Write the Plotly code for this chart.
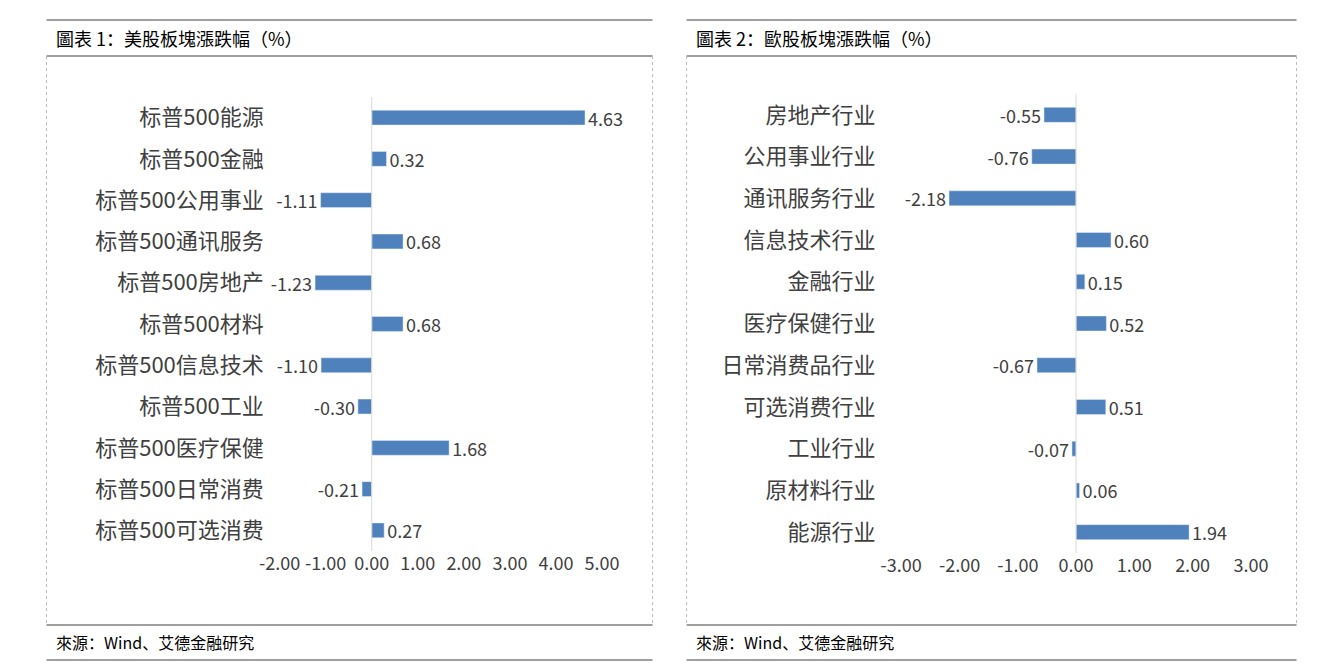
import plotly.graph_objects as go

us_cats = ["标普500能源","标普500金融","标普500公用事业","标普500通讯服务","标普500房地产","标普500材料",
           "标普500信息技术","标普500工业","标普500医疗保健","标普500日常消费","标普500可选消费"]
us_vals = [4.63,0.32,-1.11,0.68,-1.23,0.68,-1.10,-0.30,1.68,-0.21,0.27]
eu_cats = ["房地产行业","公用事业行业","通讯服务行业","信息技术行业","金融行业","医疗保健行业",
           "日常消费品行业","可选消费行业","工业行业","原材料行业","能源行业"]
eu_vals = [-0.55,-0.76,-2.18,0.60,0.15,0.52,-0.67,0.51,-0.07,0.06,1.94]
us_ticks = [-2,-1,0,1,2,3,4,5]
eu_ticks = [-3,-2,-1,0,1,2,3]

W, H = 1324, 664
F = "Noto Sans CJK SC, Noto Sans, sans-serif"
BLUE = "#4f81bd"
fmt = lambda v: f"{v:.2f}"
fig = go.Figure()
fig.add_trace(go.Bar(y=us_cats, x=us_vals, orientation="h", marker_color=BLUE, width=0.36,
                     text=[fmt(v) for v in us_vals], textposition="outside", cliponaxis=False,
                     textfont=dict(size=18, color="#404040"), xaxis="x", yaxis="y"))
fig.add_trace(go.Bar(y=eu_cats, x=eu_vals, orientation="h", marker_color=BLUE, width=0.36,
                     text=[fmt(v) for v in eu_vals], textposition="outside", cliponaxis=False,
                     textfont=dict(size=18, color="#404040"), xaxis="x2", yaxis="y2"))

def px(x): return x / W
def py(y): return 1 - y / H

ax = dict(showgrid=False, zeroline=False, showline=False, ticks="", tickangle=0,
          tickfont=dict(size=18, color="#404040"))
fig.update_layout(
    width=W, height=H, margin=dict(l=0, r=0, t=0, b=0), showlegend=False, autosize=False,
    plot_bgcolor="white", paper_bgcolor="white", font=dict(family=F),
    uniformtext=dict(minsize=18, mode="show"),
    xaxis=dict(ax, domain=[px(258), px(590)], range=[-2, 5], tickvals=us_ticks,
               ticktext=[fmt(v) for v in us_ticks], anchor="y"),
    yaxis=dict(domain=[py(543), py(89)], autorange="reversed", ticks="", showline=False,
               tickfont=dict(size=22, color="#404040"), anchor="x", ticksuffix="   "),
    xaxis2=dict(ax, domain=[px(898), px(1258)], range=[-3, 3], tickvals=eu_ticks,
                ticktext=[fmt(v) for v in eu_ticks], anchor="y2"),
    yaxis2=dict(domain=[py(545), py(86)], autorange="reversed", ticks="", showline=False,
                tickfont=dict(size=22, color="#404040"), anchor="x2", ticksuffix="     "),
)
shapes = []
for x0, x1 in [(18, 642), (677, 1305)]:
    for y in [12, 48, 617, 652]:
        shapes.append(dict(type="line", xref="paper", yref="paper", x0=px(x0), x1=px(x1),
                           y0=py(y), y1=py(y), line=dict(color="#404040", width=1)))
    for x in [x0, x1]:
        shapes.append(dict(type="line", xref="paper", yref="paper", x0=px(x), x1=px(x),
                           y0=py(48), y1=py(617), line=dict(color="#bbbbbb", width=1, dash="dot")))
shapes.append(dict(type="line", xref="x", yref="paper", x0=0, x1=0, y0=py(89), y1=py(543),
                   line=dict(color="#d9d9d9", width=1)))
shapes.append(dict(type="line", xref="x2", yref="paper", x0=0, x1=0, y0=py(86), y1=py(545),
                   line=dict(color="#d9d9d9", width=1)))
fig.update_layout(shapes=shapes)
ann = []
for x, t in [(26, "圖表 1：美股板塊漲跌幅（%）"), (685, "圖表 2：歐股板塊漲跌幅（%）")]:
    ann.append(dict(text=t, x=px(x), y=py(30), xref="paper", yref="paper", xanchor="left",
                    yanchor="middle", showarrow=False, font=dict(size=18, color="black")))
for x in [26, 685]:
    ann.append(dict(text="來源：Wind、艾德金融研究", x=px(x), y=py(634), xref="paper", yref="paper",
                    xanchor="left", yanchor="middle", showarrow=False, font=dict(size=16, color="black")))
fig.update_layout(annotations=ann)
fig.write_html("out.html", config={"responsive": False})
